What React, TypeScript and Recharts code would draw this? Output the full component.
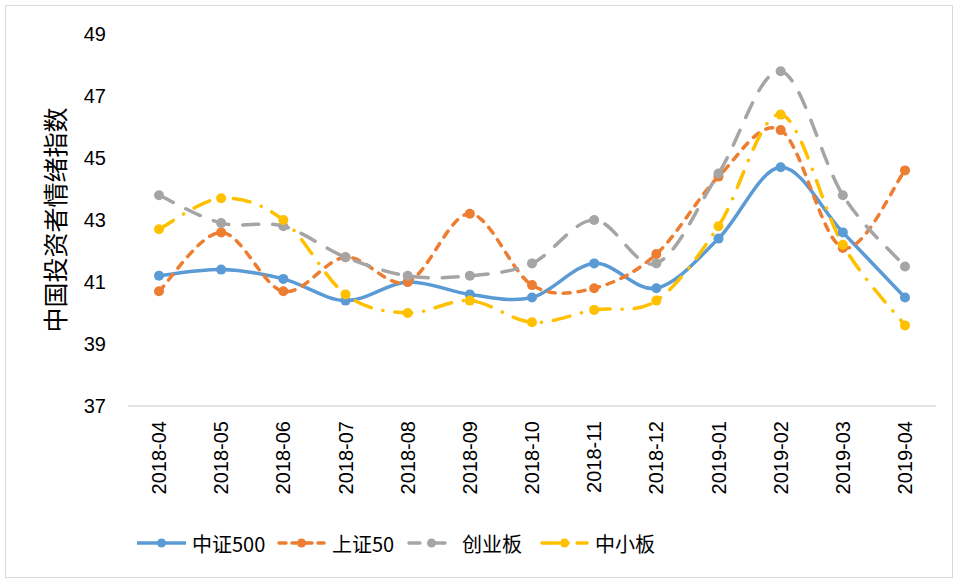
import { LineChart, Line, XAxis, YAxis, Legend } from "recharts";

const months = [
  "2018-04", "2018-05", "2018-06", "2018-07", "2018-08", "2018-09", "2018-10",
  "2018-11", "2018-12", "2019-01", "2019-02", "2019-03", "2019-04",
];
const csi500 = [41.2, 41.4, 41.1, 40.4, 41.0, 40.6, 40.5, 41.6, 40.8, 42.4, 44.7, 42.6, 40.5];
const sse50 = [40.7, 42.6, 40.7, 41.8, 41.0, 43.2, 40.9, 40.8, 41.9, 44.4, 45.9, 42.1, 44.6];
const chinext = [43.8, 42.9, 42.8, 41.8, 41.2, 41.2, 41.6, 43.0, 41.6, 44.5, 47.8, 43.8, 41.5];
const sme = [42.7, 43.7, 43.0, 40.6, 40.0, 40.4, 39.7, 40.1, 40.4, 42.8, 46.4, 42.2, 39.6];
const yTicks = [37, 39, 41, 43, 45, 47, 49];

const rows = months.map((m, i) => ({
  month: m,
  csi500: csi500[i],
  sse50: sse50[i],
  chinext: chinext[i],
  sme: sme[i],
}));

// line styles, roughly what Excel draws
const series = [
  { key: "csi500", name: "中证500", color: "#5B9BD5", dash: undefined, cap: "butt", legendDash: undefined },
  { key: "sse50", name: "上证50", color: "#ED7D31", dash: "7 8", cap: "round", legendDash: "7 6" },
  { key: "chinext", name: "创业板", color: "#A5A5A5", dash: "16 14", cap: "round", legendDash: "11 14" },
  { key: "sme", name: "中小板", color: "#FFC000", dash: "17 12 0.1 12", cap: "round", legendDash: "17 9 0.1 9" },
];

const legendWidths = [140, 130, 133, 120];

// Excel style smoothing: catmull-rom through every point
function excelCurve(context: any) {
  let pts: number[][] = [];
  return {
    areaStart() {},
    areaEnd() {},
    lineStart() {
      pts = [];
    },
    lineEnd() {
      const n = pts.length;
      if (!n) return;
      context.moveTo(pts[0][0], pts[0][1]);
      for (let i = 0; i < n - 1; i++) {
        const p0 = pts[i - 1] || pts[i];
        const p1 = pts[i];
        const p2 = pts[i + 1];
        const p3 = pts[i + 2] || p2;
        context.bezierCurveTo(
          p1[0] + (p2[0] - p0[0]) / 6,
          p1[1] + (p2[1] - p0[1]) / 6,
          p2[0] - (p3[0] - p1[0]) / 6,
          p2[1] - (p3[1] - p1[1]) / 6,
          p2[0],
          p2[1]
        );
      }
    },
    point(x: number, y: number) {
      pts.push([+x, +y]);
    },
  };
}

const tickFont = "'Liberation Sans', Arial, sans-serif";
const cjkFont = "'Liberation Sans Narrow', 'Noto Sans CJK SC', sans-serif";

function MonthTick({ x, y, payload }: any) {
  return (
    <text
      x={x}
      y={y}
      transform={`rotate(-90, ${x}, ${y})`}
      textAnchor="end"
      dominantBaseline="central"
      fontFamily={tickFont}
      fontSize={20}
      fill="#000"
    >
      {payload.value}
    </text>
  );
}

function ChartLegend() {
  return (
    <div style={{ height: 40, display: "flex", alignItems: "center", paddingLeft: 137 }}>
      {series.map((s, i) => (
        <div key={s.key} style={{ width: legendWidths[i], display: "flex", alignItems: "center" }}>
          <svg width={49} height={20} style={{ marginRight: 6 }}>
            <line
              x1={s.cap === "round" ? 2 : 0}
              y1={10}
              x2={s.cap === "round" ? 47 : 49}
              y2={10}
              stroke={s.color}
              strokeWidth={3.5}
              strokeDasharray={s.legendDash}
              strokeLinecap={s.cap as any}
            />
            <circle cx={24.5} cy={10} r={4.5} fill={s.color} />
          </svg>
          <span style={{ fontFamily: cjkFont, fontSize: 20, color: "#000", whiteSpace: "nowrap" }}>
            {s.name}
          </span>
        </div>
      ))}
    </div>
  );
}

export default function App() {
  return (
    <div style={{ position: "absolute", left: 0, top: 0, width: 956, height: 579, background: "#fff" }}>
      <div
        style={{
          position: "absolute",
          left: 5,
          top: 5,
          width: 948,
          height: 573,
          border: "1px solid #D9D9D9",
          boxSizing: "border-box",
        }}
      />
      <LineChart
        width={956}
        height={579}
        data={rows}
        margin={{ top: 34, right: 20, bottom: 16, left: 0 }}
      >
        <XAxis
          dataKey="month"
          interval={0}
          height={117}
          padding={{ left: 31, right: 31 }}
          tickLine={false}
          tickMargin={9}
          axisLine={{ stroke: "#D9D9D9", strokeWidth: 1.5 }}
          tick={<MonthTick />}
        />
        <YAxis
          width={128}
          domain={[37, 49]}
          ticks={yTicks}
          interval={0}
          axisLine={false}
          tickLine={false}
          tickMargin={16}
          tick={{ fontFamily: tickFont, fontSize: 20, fill: "#000" }}
          label={{
            value: "中国投资者情绪指数",
            angle: -90,
            position: "center",
            dx: -8,
            style: { fontFamily: "'Noto Sans CJK SC', sans-serif", fontSize: 25, fill: "#000" },
          }}
        />
        {series.map((s) => (
          <Line
            key={s.key}
            dataKey={s.key}
            name={s.name}
            type={excelCurve as any}
            stroke={s.color}
            strokeWidth={3.5}
            strokeDasharray={s.dash}
            strokeLinecap={s.cap as any}
            dot={{ r: 5, fill: s.color, stroke: s.color, strokeWidth: 0, strokeDasharray: "" }}
            activeDot={false}
            isAnimationActive={false}
          />
        ))}
        <Legend verticalAlign="bottom" content={<ChartLegend />} />
      </LineChart>
    </div>
  );
}
